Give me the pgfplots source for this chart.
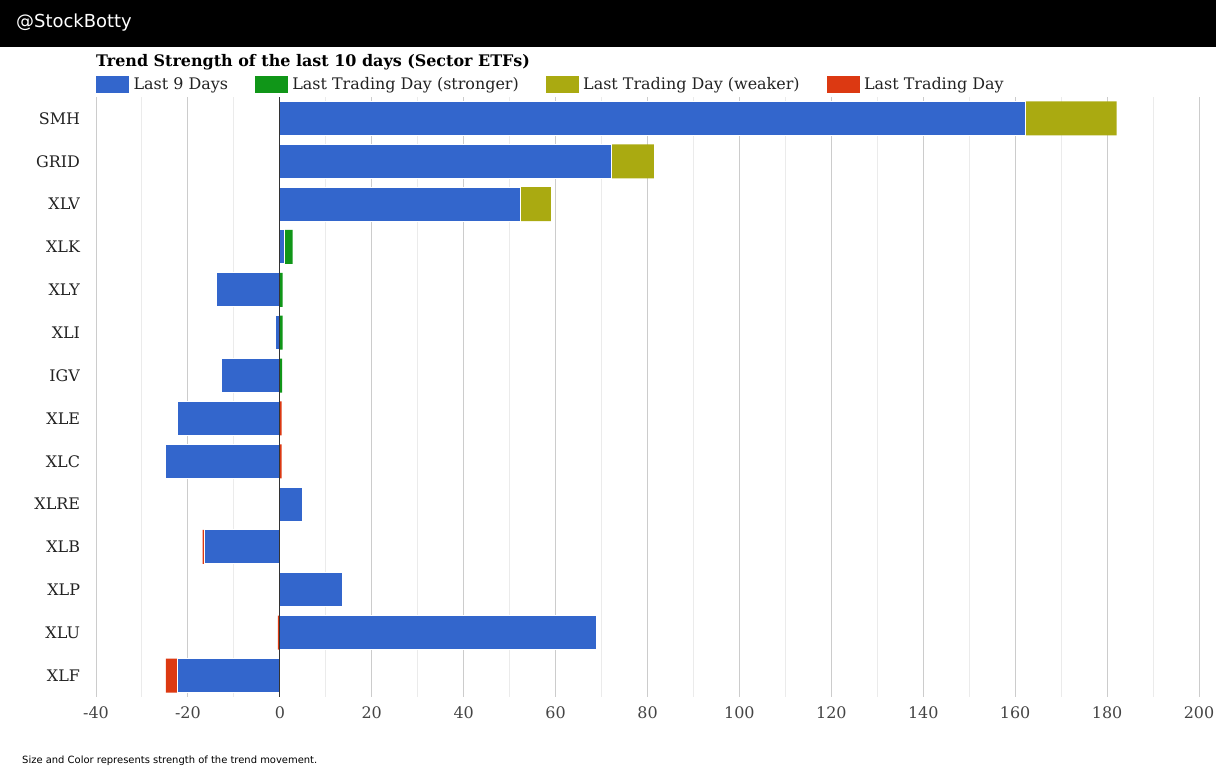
\documentclass[border=0pt]{standalone}
\usepackage{pgfplots}
\pgfplotsset{compat=1.18}
\usepackage{fontspec}
\setmainfont{DejaVu Serif}
\newfontfamily\sansf{DejaVu Sans}
\definecolor{cblue}{HTML}{3366CC}
\definecolor{cgreen}{HTML}{109618}
\definecolor{colive}{HTML}{AAAA11}
\definecolor{cred}{HTML}{DC3912}
\definecolor{gridmaj}{HTML}{CCCCCC}
\definecolor{gridmin}{HTML}{EBEBEB}
\definecolor{zeroc}{HTML}{333333}
\definecolor{labc}{HTML}{222222}
\definecolor{tickc}{HTML}{444444}
\pgfplotsset{seg/.style={xbar, bar shift=0pt, bar width=34bp, draw=none, forget plot}}

\begin{document}
\begin{tikzpicture}
\path[use as bounding box] (0bp,0bp) rectangle (1216bp,769bp);
\fill[black] (0bp,722bp) rectangle (1216bp,769bp);
\node[anchor=west, inner sep=0pt, white, font=\sansf\fontsize{18}{20}\selectfont] at (16bp,746bp) {@StockBotty};
\node[anchor=base west, inner sep=0pt, font=\bfseries\fontsize{16}{18}\selectfont] at (96bp,702bp) {Trend Strength of the last 10 days (Sector ETFs)};
\node[anchor=base west, inner sep=0pt, font=\sansf\fontsize{10}{12}\selectfont] at (22bp,6bp) {Size and Color represents strength of the trend movement.};

\begin{axis}[at={(96bp,72bp)}, anchor=south west,
   scale only axis, width=1103bp, height=600bp,
   xmin=-40, xmax=200, ymin=-0.5, ymax=13.5,
   xtick={-40,-20,...,200}, minor x tick num=1,
   xmajorgrids, xminorgrids,
   major grid style={gridmaj, line width=1bp},
   minor grid style={gridmin, line width=1bp},
   axis line style={draw=none},
   major tick length=0pt, minor tick length=0pt,
   ytick={0,...,13},
   yticklabels={XLF,XLU,XLP,XLB,XLRE,XLC,XLE,IGV,XLI,XLY,XLK,XLV,GRID,SMH},
   /pgf/number format/assume math mode=true,
   xticklabel style={font=\fontsize{16}{18}\selectfont, text=tickc, yshift=-6.5bp},
   yticklabel style={font=\fontsize{16}{18}\selectfont, text=labc, xshift=-12.5bp},
   legend columns=4,
   legend style={at={(0,1)}, anchor=south west, yshift=4bp, draw=none, fill=none,
      inner sep=0pt, font=\fontsize{16}{18}\selectfont, text=labc,
      /tikz/every odd column/.append style={column sep=3bp},
      /tikz/every even column/.append style={column sep=25bp}},
   legend cell align=left,
   legend image code/.code={\fill[#1] (0bp,-8bp) rectangle (32bp,8bp);},
]
\addlegendimage{cblue}\addlegendentry{Last 9 Days}
\addlegendimage{cgreen}\addlegendentry{Last Trading Day (stronger)}
\addlegendimage{colive}\addlegendentry{Last Trading Day (weaker)}
\addlegendimage{cred}\addlegendentry{Last Trading Day}

% cumulative ends of the last-day segments
\addplot[seg, fill=colive] coordinates {(182.1,13) (81.4,12) (59.0,11)};
\addplot[seg, fill=cgreen] coordinates {(2.8,10) (0.6,9) (0.6,8) (0.5,7)};
\addplot[seg, fill=cred] coordinates {(0.4,6) (0.4,5) (-16.8,3) (-0.4,1) (-24.8,0)};
% last 9 days
\addplot[seg, fill=cblue, draw=white, line width=1bp] coordinates {
   (162.3,13) (72.2,12) (52.4,11) (1.1,10) (-13.7,9) (-0.9,8) (-12.8,7)
   (-22.2,6) (-24.8,5) (5.0,4) (-16.3,3) (13.7,2) (69.0,1) (-22.2,0)};
\addplot[forget plot, zeroc, line width=1bp, mark=none] coordinates {(0,-0.5) (0,13.5)};
\end{axis}
\end{tikzpicture}
\end{document}
